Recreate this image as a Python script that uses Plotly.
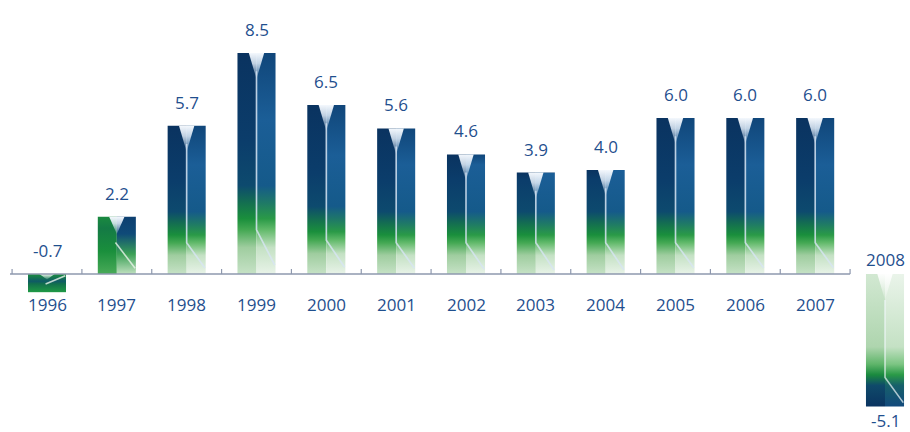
import numpy as np
import plotly.graph_objects as go

# Annual growth, %
years = ["1996", "1997", "1998", "1999", "2000", "2001", "2002",
         "2003", "2004", "2005", "2006", "2007", "2008"]
growth = [-0.7, 2.2, 5.7, 8.5, 6.5, 5.6, 4.6, 3.9, 4.0, 6.0, 6.0, 6.0, -5.1]
value_labels = [f"{v:.1f}" for v in growth]

TEXT = "#1f4f8e"
AXIS = "#8e98ae"
FONT = "Open Sans"
BAR_W = 0.545

# colour stops measured from the axis outwards (fraction of bar length)
POS_LEFT = [(0.0, "#c6e2c6"), (0.12, "#9fcd9f"), (0.2, "#44a853"), (0.25, "#1a8f3c"),
            (0.32, "#14704f"), (0.40, "#0d4a6e"), (0.6, "#0b3d6b"), (1.0, "#0a3360")]
POS_RIGHT = [(0.0, "#e8f3e8"), (0.12, "#c4e1c4"), (0.2, "#62ba6b"), (0.25, "#2a9a47"),
             (0.32, "#1f7a66"), (0.40, "#155a8a"), (0.7, "#1b5e97"), (1.0, "#10467a")]
# short upward bars are mostly green with a dark patch near the top
SHORT_LEFT = [(0.0, "#49aa58"), (0.4, "#1a8f3c"), (0.8, "#147a45"), (1.0, "#1a8a40")]
SHORT_RIGHT = [(0.0, "#bfe0bf"), (0.35, "#3aa055"), (0.7, "#0f4a78"), (1.0, "#0d3f70")]
# downward bars: measured from the far end back to the axis
NEG_LEFT = [(0.0, "#0a3360"), (0.16, "#0f4a6a"), (0.24, "#1a8a3e"), (0.32, "#5fb56a"),
            (0.45, "#aed5ae"), (1.0, "#d2e8d2")]
NEG_RIGHT = [(0.0, "#12497c"), (0.16, "#17606a"), (0.24, "#2a9a47"), (0.32, "#7cc583"),
             (0.45, "#c4e1c4"), (1.0, "#eaf4ea")]
SMALL = [(0.0, "#1f9a45"), (0.45, "#12704c"), (0.6, "#0f5a66"), (1.0, "#1a8f3c")]


def stretched(stops, s):
    """Push inner stops outward for shorter bars so the green part grows."""
    out, last = [], 0.0
    for pos, col in stops:
        if pos in (0.0, 1.0):
            p = pos
        else:
            p = min(0.995, pos * s)
            p = max(p, last + 1e-3)
        if p > 1.0:
            continue
        out.append([p, col])
        last = p
    if out[-1][0] < 1.0:
        out.append([1.0, stops[-1][1]])
    return out


fig = go.Figure()

for i, v in enumerate(growth):
    lo, hi = min(0.0, v), max(0.0, v)
    if v >= 3:
        s = max(1.0, 6.0 / v)
        scales = (stretched(POS_LEFT, s), stretched(POS_RIGHT, s))
    elif v > 0:
        scales = ([list(p) for p in SHORT_LEFT], [list(p) for p in SHORT_RIGHT])
    elif abs(v) >= 1.5:
        scales = ([list(p) for p in NEG_LEFT], [list(p) for p in NEG_RIGHT])
    else:
        scales = ([list(p) for p in SMALL], [list(p) for p in SMALL])

    halves = ((i - BAR_W / 2, i), (i, i + BAR_W / 2))
    for (x0, x1), cs in zip(halves, scales):
        fig.add_trace(go.Scatter(
            x=[x0, x1, x1, x0, x0], y=[0, 0, v, v, 0],
            mode="none", fill="toself",
            fillgradient=dict(type="vertical", colorscale=cs, start=lo, stop=hi),
            hoverinfo="skip", showlegend=False))

    # pale V at the top of upward bars / at the axis end of downward bars
    if v > 0:
        h = min(1.0, 0.3 * v)
        tip, y_top = v - h, v
        vcs = [[0, "rgba(200,220,242,0.2)"], [0.6, "rgba(225,236,248,0.85)"],
               [1, "rgba(244,248,253,1)"]]
    else:
        h = min(1.0, 0.3 * abs(v))
        tip, y_top = -h, 0.0
        vcs = [[0, "rgba(255,255,255,0.1)"], [1, "rgba(255,255,255,0.95)"]]
    fig.add_trace(go.Scatter(
        x=[i - 0.11, i + 0.11, i, i - 0.11], y=[y_top, y_top, tip, y_top],
        mode="none", fill="toself",
        fillgradient=dict(type="vertical", colorscale=vcs, start=tip, stop=y_top),
        hoverinfo="skip", showlegend=False))

    # thin seam down the middle ending in a diagonal glint
    if v >= 3:
        knee = 0.2 * v * max(1.0, 6.0 / v)
        fig.add_trace(go.Scatter(
            x=[i, i, i + BAR_W * 0.48], y=[tip + 0.3 * h, knee, 0.04 * v],
            mode="lines", line=dict(color="rgba(215,229,244,0.8)", width=1.7),
            hoverinfo="skip", showlegend=False))
    elif v < -1.5:
        knee = 0.78 * v
        fig.add_trace(go.Scatter(
            x=[i, i, i + BAR_W * 0.48], y=[tip, knee, 0.97 * v],
            mode="lines", line=dict(color="rgba(240,246,250,0.7)", width=1.6),
            hoverinfo="skip", showlegend=False))
    else:
        fig.add_trace(go.Scatter(
            x=[i - 0.02, i + BAR_W * 0.48], y=[0.55 * v, 0.1 * v],
            mode="lines", line=dict(color="rgba(235,244,235,0.8)", width=1.6),
            hoverinfo="skip", showlegend=False))

annotations = []
for i, (yr, v, lab) in enumerate(zip(years, growth, value_labels)):
    deep = v < -1.5
    annotations.append(dict(
        x=i, y=v if deep else max(v, 0), text=lab, showarrow=False,
        yanchor="top" if deep else "bottom", yshift=0 if deep else 10,
        font=dict(family=FONT, size=17, color=TEXT)))
    annotations.append(dict(
        x=i, y=0, text=yr, showarrow=False,
        yanchor="bottom" if deep else "top", yshift=1 if deep else -17,
        font=dict(family=FONT, size=17, color=TEXT)))

# baseline with small upward ticks between the years
shapes = [dict(type="line", xref="x", yref="y", x0=-0.53, x1=len(years) - 1.5,
               y0=0, y1=0, line=dict(color=AXIS, width=1.5), layer="above")]
for k in range(len(years)):
    shapes.append(dict(type="line", xref="x", yref="y", ysizemode="pixel", yanchor=0,
                       x0=k - 0.5, x1=k - 0.5, y0=0, y1=5,
                       line=dict(color=AXIS, width=1.2), layer="above"))

fig.update_layout(
    width=910, height=432,
    margin=dict(l=0, r=0, t=0, b=0),
    paper_bgcolor="white", plot_bgcolor="white",
    xaxis=dict(range=[-0.673, 12.358], visible=False, fixedrange=True),
    yaxis=dict(range=[-6.077, 10.538], visible=False, fixedrange=True),
    annotations=annotations, shapes=shapes, showlegend=False,
)

fig.write_html("out.html")
